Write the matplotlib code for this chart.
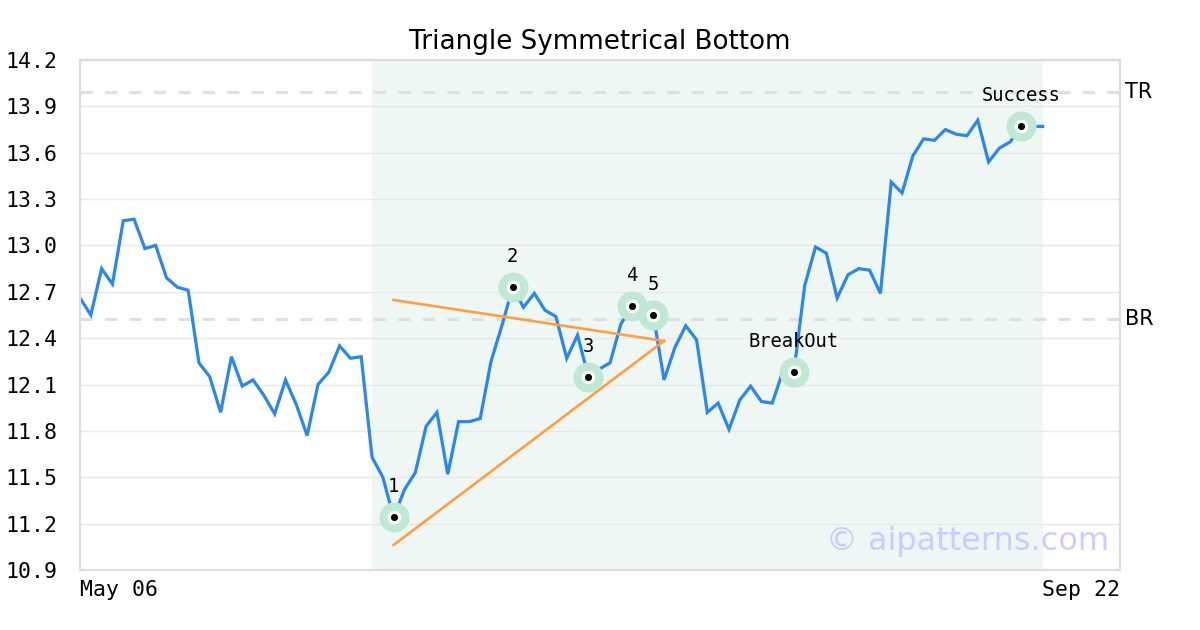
"""
Triangle Symmetrical Bottom pattern chart.

Output:
    out.png (1200x630)
"""

import matplotlib
matplotlib.use('Agg')
import matplotlib.pyplot as plt


# ============================ Data ============================
PRICES = [
    12.66, 12.55, 12.85, 12.75, 13.16, 13.17, 12.98, 13.00, 12.79, 12.73,
    12.71, 12.24, 12.15, 11.92, 12.28, 12.09, 12.13, 12.03, 11.91, 12.13,
    11.97, 11.77, 12.10, 12.18, 12.35, 12.27, 12.28, 11.63, 11.50, 11.24,
    11.42, 11.53, 11.83, 11.92, 11.52, 11.86, 11.86, 11.88, 12.25, 12.48,
    12.73, 12.60, 12.69, 12.58, 12.54, 12.27, 12.42, 12.15, 12.20, 12.24,
    12.49, 12.61, 12.56, 12.55, 12.13, 12.34, 12.48, 12.39, 11.92, 11.98,
    11.81, 12.00, 12.09, 11.99, 11.98, 12.19, 12.18, 12.74, 12.99, 12.95,
    12.66, 12.81, 12.85, 12.84, 12.69, 13.41, 13.34, 13.58, 13.69, 13.68,
    13.75, 13.72, 13.71, 13.81, 13.54, 13.63, 13.67, 13.77, 13.77, 13.77,
]

PATTERN_IDX = [29, 40, 47, 51, 53]
PATTERN_LABELS = ['1', '2', '3', '4', '5']
BREAKOUT_IDX = 66
SUCCESS_IDX = 87

UPPER_X = [29, 54]
UPPER_Y = [12.647, 12.382]
LOWER_X = [29, 54]
LOWER_Y = [11.062, 12.382]

TR_LEVEL = 13.99
BR_LEVEL = 12.525

SHADE_START = 27
SHADE_END = 89

Y_TICKS = [10.9, 11.2, 11.5, 11.8, 12.1, 12.4, 12.7, 13.0, 13.3, 13.6, 13.9, 14.2]
X_LABELS = ['May 06', 'Sep 22']
X_MAX = 96.15

TITLE = 'Triangle Symmetrical Bottom'

# ============================ Style ============================
BLUE = '#2b87e8'
ORANGE = '#ff9f43'
HALO = '#bfe9d5'
SHADE = '#eff7f4'
GRID = '#e8e8e8'
DASH = '#e0e0e0'
SPINE = '#dddddd'
MONO = 'DejaVu Sans Mono'


def draw_marker(ax, x, y, label):
    ax.scatter([x], [y], s=470, color=HALO, zorder=4, linewidths=0)
    ax.scatter([x], [y], s=95, color='white', zorder=5, linewidths=0)
    ax.scatter([x], [y], s=26, color='black', zorder=6, linewidths=0)
    ax.annotate(label, (x, y), xytext=(0, 22), textcoords='offset points',
                ha='center', va='center', fontsize=13.5, family=MONO,
                color='black', zorder=7)


def main():
    fig = plt.figure(figsize=(12, 6.3), dpi=100)
    ax = fig.add_axes([80 / 1200, 60 / 630, 1040 / 1200, 510 / 630])

    xs = list(range(len(PRICES)))

    ax.axvspan(SHADE_START, SHADE_END, color=SHADE, zorder=0, linewidth=0)
    for y in Y_TICKS:
        ax.axhline(y, color=GRID, linewidth=1, zorder=1)
    for lvl in (TR_LEVEL, BR_LEVEL):
        ax.axhline(lvl, color=DASH, linewidth=2.2, dashes=(4, 4), zorder=2)

    ax.plot(xs, PRICES, color=BLUE, linewidth=2.3, zorder=3,
            solid_joinstyle='miter')
    ax.plot(UPPER_X, UPPER_Y, color=ORANGE, linewidth=1.9, zorder=3.5)
    ax.plot(LOWER_X, LOWER_Y, color=ORANGE, linewidth=1.9, zorder=3.5)

    for idx, lab in zip(PATTERN_IDX, PATTERN_LABELS):
        draw_marker(ax, idx, PRICES[idx], lab)
    draw_marker(ax, BREAKOUT_IDX, PRICES[BREAKOUT_IDX], 'BreakOut')
    draw_marker(ax, SUCCESS_IDX, PRICES[SUCCESS_IDX], 'Success')

    ax.text(1.005, TR_LEVEL, 'TR', transform=ax.get_yaxis_transform(),
            ha='left', va='center', fontsize=15, family='DejaVu Sans')
    ax.text(1.005, BR_LEVEL, 'BR', transform=ax.get_yaxis_transform(),
            ha='left', va='center', fontsize=15, family='DejaVu Sans')

    ax.text(0.99, 0.055, '\u00a9 aipatterns.com', transform=ax.transAxes,
            ha='right', va='center', fontsize=23, color='#ccccff',
            family='DejaVu Sans', zorder=8)

    ax.set_xlim(0, X_MAX)
    ax.set_ylim(Y_TICKS[0], Y_TICKS[-1])
    ax.set_yticks(Y_TICKS)
    ax.set_yticklabels([f'{v:.1f}' for v in Y_TICKS], family=MONO, fontsize=15.5)
    ax.set_xticks([0, X_MAX])
    ax.set_xticklabels(X_LABELS, family=MONO, fontsize=15.5)
    xt = ax.get_xticklabels()
    xt[0].set_ha('left')
    xt[1].set_ha('right')
    ax.tick_params(axis='both', length=0)
    ax.tick_params(axis='y', pad=16.5)
    ax.tick_params(axis='x', pad=7)

    for sp in ax.spines.values():
        sp.set_color(SPINE)
        sp.set_linewidth(1.6)
        sp.set_zorder(9)

    ax.set_title(TITLE, fontsize=18.8, family='DejaVu Sans', pad=8)

    fig.savefig('out.png', dpi=100)
    plt.close(fig)


if __name__ == '__main__':
    main()
